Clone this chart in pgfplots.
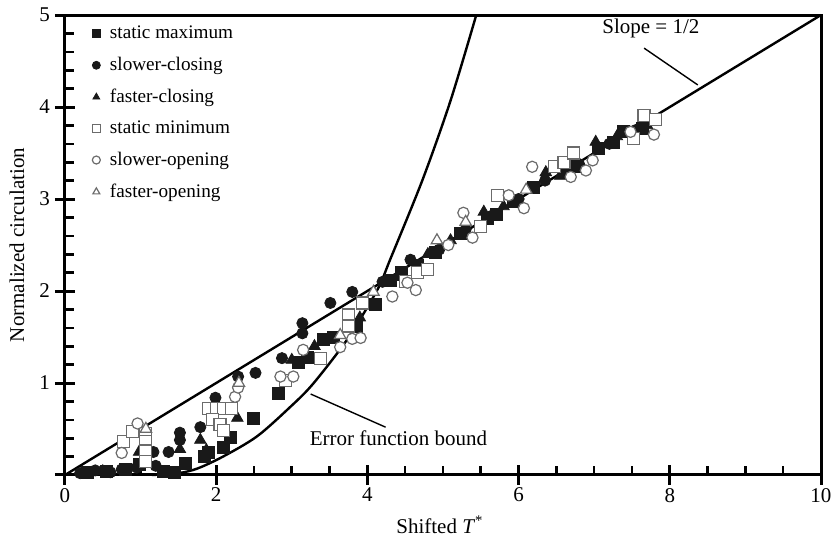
\documentclass[border=0pt]{standalone}
\usepackage{pgfplots}
\pgfplotsset{compat=1.18}
\usepackage{fontspec}
\setmainfont{Liberation Serif}

\definecolor{mkdark}{rgb}{0.10,0.10,0.10}
\definecolor{mkopen}{rgb}{0.42,0.42,0.42}

\begin{document}
\begin{tikzpicture}[font=\fontsize{10.5}{12.6}\selectfont]
\path[use as bounding box] (-32.5pt,-36pt) rectangle (383.5pt,237.5pt);

\begin{axis}[%
at={(0,0)}, anchor=south west,
width=378pt,
height=230pt,
scale only axis,
xmin=0, xmax=10,
ymin=0, ymax=5,
xtick={0,2,4,6,8,10},
ytick={0,1,2,3,4,5},
yticklabels={,1,2,3,4,5},
major tick length=0pt,
axis line style={line width=1.5pt},
/pgf/number format/assume math mode=true,
xticklabel style={yshift=-3pt},
yticklabel style={xshift=-4pt},
xlabel={Shifted \textit{T}\textsuperscript{*}},
ylabel={Normalized circulation},
xlabel style={at={(rel axis cs:0.496,-0.109)}, anchor=center},
ylabel style={at={(rel axis cs:-0.0635,0.5)}, anchor=center},
legend style={at={(rel axis cs:0.033,0.99)}, anchor=north west, draw=none, fill=none,
  row sep=3.7pt, legend cell align=left, inner sep=1pt,
  font=\fontsize{9.6}{11.5}\selectfont},
legend image code/.code={\draw[#1] plot coordinates {(0.12cm,0cm)}; \path (0.12cm+4.5pt,0cm);},
legend image post style={mark size=2pt},
clip=false,
]

% tick marks: majors cross the axis, minors point inward, bottom and left only
\pgfplotsinvokeforeach{2,4,6,8}{\draw[black, line width=1.5pt] (axis cs:#1,0) ++(0pt,-5pt) -- ++(0pt,10pt);}
\pgfplotsinvokeforeach{0.5,1,1.5,2.5,3,3.5,4.5,5,5.5,6.5,7,7.5,8.5,9,9.5}{\draw[black, line width=1.3pt] (axis cs:#1,0) -- ++(0pt,4.5pt);}
\pgfplotsinvokeforeach{1,2,3,4}{\draw[black, line width=1.5pt] (axis cs:0,#1) ++(-5pt,0pt) -- ++(10pt,0pt);}
\pgfplotsinvokeforeach{0.2,0.4,0.6,0.8,1.2,1.4,1.6,1.8,2.2,2.4,2.6,2.8,3.2,3.4,3.6,3.8,4.2,4.4,4.6,4.8}{\draw[black, line width=1.3pt] (axis cs:0,#1) -- ++(4.5pt,0pt);}
\draw[black, line width=1.5pt] (axis cs:0,5) ++(-5pt,0pt) -- ++(5pt,0pt);
\draw[black, line width=1.5pt] (axis cs:0,0) ++(0pt,-5pt) -- ++(0pt,5pt);
\draw[black, line width=1.5pt] (axis cs:0,0) ++(-5pt,0pt) -- ++(5pt,0pt);
\draw[black, line width=1.5pt] (axis cs:10,0) ++(0pt,-5pt) -- ++(0pt,5pt);

% reference lines
\addplot[forget plot, line width=1.2pt] coordinates {(0,0) (10,5)};
\addplot[forget plot, line width=1.2pt, smooth, tension=0.5] coordinates {
(1.15,0) (1.5,0.02) (1.75,0.07) (2.09,0.2) (2.54,0.42) (2.98,0.74) (3.28,0.99)
(3.73,1.47) (4.13,2.01) (4.30,2.34) (4.73,3.21) (5.10,4.07) (5.44,5.0)};
% leader lines
\addplot[forget plot, line width=0.7pt] coordinates {(7.66,4.64) (8.37,4.24)};
\addplot[forget plot, line width=0.7pt] coordinates {(3.25,0.88) (4.24,0.52)};

% static maximum
\addplot[only marks, mark=square*, mark size=3pt, draw=mkdark, fill=mkdark] coordinates {
(0.3,0.03) (0.55,0.04) (0.8,0.06) (0.99,0.11) (1.3,0.04) (1.45,0.03) (1.59,0.13)
(1.85,0.2) (1.9,0.25) (2.1,0.3) (2.19,0.41) (2.49,0.62) (2.82,0.89) (3.09,1.22)
(3.2,1.28) (3.42,1.47) (3.55,1.5) (3.85,1.62) (4.1,1.85) (4.3,2.12) (4.45,2.2)
(4.66,2.28) (4.9,2.42) (5.23,2.63) (5.59,2.79) (5.7,2.83) (5.93,2.97) (6.2,3.13)
(6.6,3.31) (6.78,3.35) (7.05,3.55) (7.25,3.62) (7.38,3.73) (7.64,3.77)};
\addlegendentry{static maximum}

% slower-closing
\addplot[only marks, mark=*, mark size=2.8pt, draw=mkdark, fill=mkdark] coordinates {
(0.2,0.02) (0.4,0.05) (0.6,0.03) (0.75,0.06) (0.95,0.08) (1.17,0.25) (1.37,0.25)
(1.2,0.1) (1.52,0.46) (1.52,0.38) (1.79,0.52) (1.99,0.84) (2.29,1.07) (2.52,1.11)
(2.87,1.27) (3.14,1.54) (3.14,1.65) (3.51,1.87) (3.8,1.99) (4.2,2.1) (4.57,2.34)
(4.95,2.45) (5.3,2.67) (5.65,2.82) (6.0,3.0) (6.35,3.2) (6.8,3.38) (7.2,3.6) (7.55,3.75)};
\addlegendentry{slower-closing}

% faster-closing
\addplot[only marks, mark=triangle*, mark size=3.3pt, draw=mkdark, fill=mkdark] coordinates {
(0.5,0.04) (0.98,0.25) (1.52,0.28) (1.79,0.38) (1.87,0.27) (2.28,0.62) (3.0,1.25)
(3.3,1.4) (3.9,1.71) (4.4,2.15) (4.8,2.4) (5.1,2.55) (5.54,2.86) (5.8,2.92)
(6.36,3.29) (6.55,3.25) (7.02,3.62) (7.3,3.68) (7.7,3.8)};
\addlegendentry{faster-closing}

% static minimum
\addplot[only marks, mark=square*, mark size=3pt, draw=mkopen, fill=white, line width=0.6pt] coordinates {
(0.77,0.36) (0.89,0.47) (1.07,0.45) (1.07,0.36) (1.07,0.26) (1.07,0.15) (1.9,0.72)
(2.0,0.72) (2.1,0.72) (2.2,0.72) (1.95,0.6) (2.05,0.55) (2.1,0.48) (2.92,1.03)
(3.38,1.27) (3.75,1.74) (3.75,1.62) (3.93,1.87) (4.5,2.1) (4.66,2.2) (4.79,2.23)
(5.5,2.7) (5.72,3.04) (6.47,3.35) (6.6,3.4) (6.73,3.5) (7.52,3.66) (7.66,3.91) (7.81,3.86)};
\addlegendentry{static minimum}

% slower-opening
\addplot[only marks, mark=*, mark size=2.8pt, draw=mkopen, fill=white, line width=0.6pt] coordinates {
(0.75,0.24) (0.96,0.56) (2.25,0.85) (2.29,0.95) (2.85,1.07) (3.02,1.07) (3.15,1.36)
(3.64,1.39) (3.8,1.48) (3.91,1.49) (4.33,1.94) (4.53,2.09) (4.64,2.01) (5.07,2.5)
(5.27,2.85) (5.39,2.58) (5.87,3.04) (6.07,2.9) (6.18,3.35) (6.69,3.24) (6.89,3.31)
(6.98,3.42) (7.48,3.73) (7.79,3.7)};
\addlegendentry{slower-opening}

% faster-opening
\addplot[only marks, mark=triangle*, mark size=3.3pt, draw=mkopen, fill=white, line width=0.6pt] coordinates {
(1.07,0.5) (2.3,1.0) (3.64,1.52) (4.08,1.99) (4.92,2.55) (5.3,2.75) (6.1,3.1)};
\addlegendentry{faster-opening}

\node[anchor=center] at (axis cs:7.75,4.85) {Slope = 1/2};
\node[anchor=center] at (axis cs:4.41,0.40) {Error function bound};
\end{axis}
\end{tikzpicture}
\end{document}
